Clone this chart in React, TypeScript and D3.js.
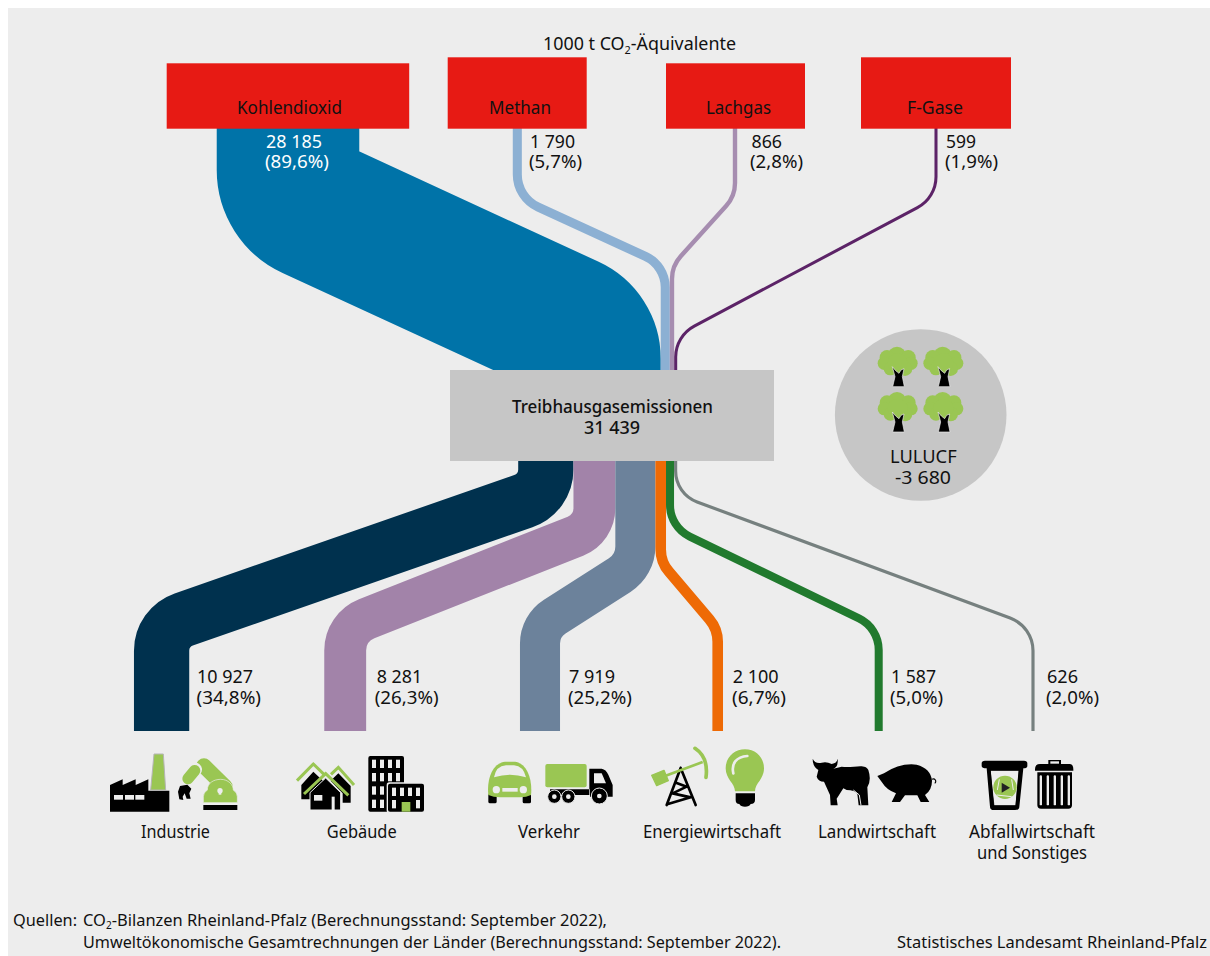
import React from "react";
import * as d3 from "d3";

// ---------- data ----------
const gasNames = ["Kohlendioxid", "Methan", "Lachgas", "F-Gase"];
const gasValues = [28185, 1790, 866, 599];
const gasShares = [89.6, 5.7, 2.8, 1.9];
const gasColors = ["#0073a8", "#8cb0d3", "#a68db0", "#5c2367"];

const sectorNames = [["Industrie"], ["Gebäude"], ["Verkehr"], ["Energiewirtschaft"], ["Landwirtschaft"], ["Abfallwirtschaft", "und Sonstiges"]];
const sectorValues = [10927, 8281, 7919, 2100, 1587, 626];
const sectorShares = [34.8, 26.3, 25.2, 6.7, 5.0, 2.0];
const sectorColors = ["#00314e", "#a283a9", "#6c829b", "#ee6a05", "#217a2e", "#76807f"];

const totalValue = 31439;
const lulucfValue = -3680;

// ---------- layout (pixels, separate from data) ----------
const GREEN = "#9ac653";
const BG = "#ededed";
const NODE = { x: 450, y: 370, w: 324, h: 91 };
const STACK_X0 = 518.2;
const BOTTOM_Y = 731;
const FONT = "'Noto Sans', 'Open Sans', sans-serif";
const BODY = 18.5;
const SMALL = 16.4;

const gasBoxes = [
  { x: 166.7, y: 63.3, w: 242.5, h: 65.4, lx: 237, lw: 105 },
  { x: 447.7, y: 57.3, w: 139, h: 71.4, lx: 489, lw: 62 },
  { x: 666, y: 63.3, w: 139, h: 65.4, lx: 706, lw: 65 },
  { x: 861, y: 57.3, w: 150, h: 71.4, lx: 907, lw: 56 },
];
// x of the vertical run at the box, y of the bend near box, y of the bend near node, radii
const gasRoutes = [
  { x: 288, yFar: 197, yNear: 336, rFar: 42, rNear: 35.5 },
  { x: 517.3, yFar: 197.5, yNear: 265.5, rFar: 36, rNear: 34 },
  { x: 735, yFar: 196, yNear: 266, rFar: 34, rNear: 34 },
  { x: 936, yFar: 197.7, yNear: 336, rFar: 35, rNear: 35 },
];
const sectorRoutes = [
  { x: 161.6, yNear: 493.3, yFar: 627.2, rNear: 33.5, rFar: 33 },
  { x: 345.2, yNear: 528.7, yFar: 627.3, rNear: 30, rFar: 34 },
  { x: 540, yNear: 565, yFar: 626, rNear: 34, rFar: 32 },
  { x: 717.7, yNear: 562, yFar: 629, rNear: 35, rFar: 35 },
  { x: 878.7, yNear: 527, yFar: 628, rNear: 35, rFar: 35 },
  { x: 1033, yNear: 494, yFar: 626.5, rNear: 33, rFar: 35 },
];
const gasLabels = [
  { vx: 266, vw: 56, px: 265, pw: 64 },
  { vx: 530, vw: 45, px: 529, pw: 53 },
  { vx: 751.5, vw: 30.5, px: 750, pw: 53 },
  { vx: 946, vw: 30, px: 945, pw: 53 },
];
const sectorLabels = [
  { vx: 197, vw: 56, px: 196.5, pw: 64.5 },
  { vx: 376.7, vw: 45.5, px: 374.7, pw: 64 },
  { vx: 569, vw: 46, px: 568, pw: 64 },
  { vx: 732.7, vw: 46, px: 732, pw: 54 },
  { vx: 891, vw: 45, px: 890, pw: 53 },
  { vx: 1047, vw: 31, px: 1046, pw: 53 },
];
const sectorTitleX = [
  [{ x: 141, w: 69 }],
  [{ x: 326.7, w: 70 }],
  [{ x: 518, w: 62 }],
  [{ x: 643, w: 138 }],
  [{ x: 818, w: 118 }],
  [{ x: 969, w: 126 }, { x: 977, w: 110 }],
];

// ---------- scales / formats ----------
const widthScale = d3.scaleLinear().domain([0, totalValue]).range([0, 159]);
const locale = d3.formatLocale({ decimal: ",", thousands: " ", grouping: [3], currency: ["", ""], minus: "-" });
const fmtInt = locale.format(",d");
const fmtPct = (v: number) => `(${locale.format(".1f")(v)}%)`;

function stackCenters(values: number[]) {
  let cum = 0;
  return values.map((v) => {
    const c = STACK_X0 + widthScale(cum + v / 2);
    cum += v;
    return c;
  });
}

function routePath(xA: number, yA: number, yB1: number, rB1: number, xB: number, yB2: number, rB2: number, yEnd: number) {
  const p = d3.path();
  p.moveTo(xA, yA);
  p.arcTo(xA, yB1, xB, yB2, rB1);
  p.arcTo(xB, yB2, xB, yEnd, rB2);
  p.lineTo(xB, yEnd);
  return p.toString();
}

function T({ x, y, w, size = BODY, fill = "#111", weight = 400, children }: any) {
  return (
    <text x={x} y={y} fontSize={size} fill={fill} fontWeight={weight} fontFamily={FONT} textLength={w} lengthAdjust="spacingAndGlyphs">
      {children}
    </text>
  );
}

// one label of two lines, as one text element with two positioned lines
function TwoLines({ y1, y2, a, b, fill = "#111", weight = 400 }: any) {
  return (
    <text fontSize={BODY} fill={fill} fontWeight={weight} fontFamily={FONT}>
      <tspan x={a.x} y={y1} textLength={a.w} lengthAdjust="spacingAndGlyphs">{a.s}</tspan>
      <tspan x={b.x} y={y2} textLength={b.w} lengthAdjust="spacingAndGlyphs">{b.s}</tspan>
    </text>
  );
}

// ---------- icons (drawn in 3x crop coordinates) ----------
const Z = ({ ox, oy, children }: any) => <g transform={`translate(${ox},${oy}) scale(${1 / 3})`}>{children}</g>;

function IconsLeft() {
  const grid: [number, number][] = [];
  for (let r = 0; r < 4; r++) for (let c = 0; c < 4; c++) if (!(r >= 2 && c >= 2)) grid.push([c, r]);
  return (
    <Z ox={100} oy={740}>
      {/* factory */}
      <path d="M30 215 V135 L68 118 V135 L107 118 V135 L145 118 V152 H208 V215 Z" fill="#000" />
      {[42, 75, 106].map((x) => <rect key={x} x={x} y={165} width={27} height={14} fill={BG} />)}
      <path d="M162 42 H190 L197 150 H152 Z" fill={GREEN} stroke="#b5b5b5" strokeWidth={3} />
      {/* robot */}
      <path d="M312 78 L375 140" stroke={GREEN} strokeWidth={46} strokeLinecap="round" />
      <path d="M286 88 L262 118" stroke={BG} strokeWidth={40} strokeLinecap="round" />
      <path d="M284 92 L264 116" stroke={GREEN} strokeWidth={34} strokeLinecap="round" />
      <path d="M310 188 V170 Q310 158 322 150 C322 130 340 118 362 118 C385 118 400 135 400 150 Q412 158 412 170 V188 Z" fill={GREEN} stroke={BG} strokeWidth={2} />
      <circle cx={360} cy={152} r={8} fill={BG} />
      <rect x={356} y={152} width={8} height={12} fill={BG} />
      <rect x={310} y={195} width={102} height={15} fill="#000" />
      <path d="M240 138 L262 134 L274 146 L268 160 L272 176 L260 176 L254 160 L248 170 L250 180 L238 178 L234 155 Z" fill="#000" />
      {/* houses */}
      <path d="M604 135 L640 95 L672 125 L630 165 V178 H604 Z" fill="#000" />
      <path d="M692 122 L715 100 L752 138 V188 H728 V160 Z" fill="#000" />
      <path d="M630 158 L677 114 L722 158 V210 H630 Z" fill="#000" stroke={BG} strokeWidth={3} />
      <rect x={642} y={165} width={25} height={17} fill={BG} />
      <rect x={695} y={170} width={9} height={42} fill={BG} />
      <path d="M591 122 L640 72 L672 103" fill="none" stroke={GREEN} strokeWidth={9} />
      <path d="M693 103 L715 82 L762 135" fill="none" stroke={GREEN} strokeWidth={9} />
      <path d="M612 162 L677 101 L745 166" fill="none" stroke={GREEN} strokeWidth={9} />
      {/* buildings */}
      <rect x={805} y={48} width={107} height={167} rx={6} fill="#000" />
      {grid.map(([c, r]) => <rect key={`${c}-${r}`} x={816 + c * 24} y={59 + r * 40} width={12} height={25} fill={BG} />)}
      <rect x={860} y={127} width={115} height={92} rx={8} fill={BG} />
      <rect x={864} y={131} width={108} height={84} rx={6} fill="#000" />
      {[0, 1, 2, 3].map((c) => <rect key={c} x={876 + c * 24} y={143} width={12} height={25} fill={BG} />)}
      <rect x={876} y={180} width={12} height={25} fill={BG} />
      <rect x={948} y={180} width={12} height={25} fill={BG} />
      <rect x={905} y={186} width={26} height={29} fill={GREEN} />
    </Z>
  );
}

function IconsMiddle() {
  return (
    <Z ox={470} oy={740}>
      {/* car */}
      <rect x={55} y={160} width={25} height={30} rx={5} fill="#000" />
      <rect x={158} y={160} width={25} height={30} rx={5} fill="#000" />
      <path d="M55 165 C50 120 65 70 105 65 H135 C172 70 188 120 183 165 Q170 172 150 172 H90 Q70 172 55 165 Z" fill={GREEN} />
      <path d="M72 112 Q78 78 108 76 H132 Q160 78 168 112 Q120 96 72 112 Z" fill={BG} />
      <circle cx={79} cy={149} r={11} fill={BG} />
      <circle cx={160} cy={149} r={11} fill={BG} />
      <rect x={97} y={144} width={46} height={11} fill={BG} />
      {/* truck */}
      <rect x={226} y={72} width={124} height={70} rx={6} fill={GREEN} />
      <path d="M358 86 H395 Q408 88 415 104 L428 135 V170 H360 V148 H240 V165 H358 Z" fill="#000" />
      <path d="M372 100 H395 L408 130 H372 Z" fill={BG} />
      {[[253, 170, 20], [295, 170, 20], [388, 168, 24]].map(([cx, cy, r]) => (
        <g key={cx}>
          <circle cx={cx} cy={cy} r={r} fill="#000" stroke={BG} strokeWidth={3} />
          <circle cx={cx} cy={cy} r={7} fill={BG} />
        </g>
      ))}
      {/* derrick */}
      <path d="M632 84 L590 195 M632 84 L677 195 M618 128 L650 140 L608 160 L662 172 L594 192" fill="none" stroke="#000" strokeWidth={8} strokeLinecap="round" strokeLinejoin="round" />
      <path d="M575 112 L698 66" stroke={GREEN} strokeWidth={8} />
      <path d="M545 106 L582 91 L595 122 L560 137 Z" fill={GREEN} stroke={GREEN} strokeWidth={4} strokeLinejoin="round" />
      <path d="M675 25 Q716 52 708 112" fill="none" stroke={GREEN} strokeWidth={11} strokeLinecap="round" />
      {/* bulb */}
      <path d="M795 154 C795 130 767 118 767 85 C767 52 793 28 825 28 C857 28 882 52 882 85 C882 118 855 130 855 154 Z" fill={GREEN} />
      <path d="M790 100 C783 70 800 50 832 48" fill="none" stroke={BG} strokeWidth={8} strokeLinecap="round" />
      <path d="M797 160 H855 V180 Q855 192 842 192 Q838 200 825 200 Q812 200 808 192 Q797 192 797 180 Z" fill="#000" />
    </Z>
  );
}

function IconsRight() {
  return (
    <Z ox={790} oy={740}>
      {/* cow */}
      <path d="M68 56 Q75 72 95 68 Q110 64 125 72 Q140 70 143 56 Q145 82 130 86 L155 80 C190 85 225 68 235 90 Q245 120 232 142 L235 196 H206 L202 162 Q195 150 170 150 L160 145 L140 176 L143 196 H122 L120 165 L102 125 Q85 125 80 110 L85 90 Q68 80 68 56 Z" fill="#000" />
      <path d="M190 150 L208 165 L213 196" fill="none" stroke={BG} strokeWidth={3} />
      {/* pig */}
      <path d="M262 108 L282 100 Q330 68 380 74 Q422 85 426 122 Q426 150 405 165 L418 186 H392 L382 166 H345 L330 186 H305 L318 160 Q290 150 278 130 Z" fill="#000" />
      <path d="M426 118 A7 7 0 1 1 434 130" fill="none" stroke="#000" strokeWidth={3.5} />
      {/* recycling bin */}
      <path d="M575 70 Q575 62 585 62 H702 Q712 62 712 70 V78 Q712 85 700 85 L688 200 Q688 210 675 210 H612 Q600 210 600 200 L590 85 Q575 85 575 78 Z" fill="#000" />
      <path d="M600 90 H688 L678 198 H612 Z" fill={BG} stroke="#000" strokeWidth={2} />
      <path d="M598 88 H690 L680 200 H608 Z" fill="none" stroke="#000" strokeWidth={8} />
      <circle cx={645} cy={142} r={35} fill={GREEN} />
      <path d="M635 128 L660 143 L635 158 Z" fill="#222" />
      <path d="M628 118 L622 150 M665 118 L670 150 M620 165 L665 170" stroke={BG} strokeWidth={3} />
      {/* dustbin */}
      <path d="M735 88 Q735 72 750 72 H775 V60 H813 V72 H838 Q850 72 850 88 V92 H735 Z" fill="#000" />
      <rect x={781} y={64} width={26} height={7} fill={BG} />
      <path d="M742 97 H846 V195 Q846 206 835 206 H753 Q742 206 742 195 Z" fill="#000" />
      {[752, 773, 794, 815, 836].map((x) => <rect key={x} x={x - 3} y={106} width={7} height={90} rx={3.5} fill={BG} />)}
    </Z>
  );
}

const treeOffsets: [number, number][] = [[0, 0], [137, 0], [0, 136], [137, 136]];
function Trees() {
  const crown: [number, number, number][] = [[216, 108, 28], [186, 112, 22], [250, 112, 22], [178, 130, 20], [258, 130, 20], [196, 146, 20], [240, 146, 22], [218, 130, 30]];
  return (
    <Z ox={825} oy={320}>
      {treeOffsets.map(([dx, dy]) => (
        <g key={`${dx}-${dy}`} transform={`translate(${dx},${dy})`}>
          {crown.map(([cx, cy, r]) => <circle key={`${cx}-${cy}`} cx={cx} cy={cy} r={r} fill={GREEN} />)}
          <path d="M202 140 L212 152 L222 160 L228 150 L237 146 L232 170 L238 200 H203 L210 170 Z" fill="#000" stroke={BG} strokeWidth={2} />
        </g>
      ))}
    </Z>
  );
}

export default function App() {
  const gasCenters = stackCenters(gasValues);
  const sectorCenters = stackCenters(sectorValues);
  const t = NODE.y;
  const b = NODE.y + NODE.h;
  return (
    <svg width={1202} height={948} viewBox="8 8 1202 948" style={{ display: "block", position: "absolute", left: 8, top: 8 }}>
      <rect x={8} y={8} width={1202} height={948} fill={BG} />

      {/* flows */}
      {gasValues.map((v, i) => {
        const r = gasRoutes[i];
        return (
          <path key={gasNames[i]} d={routePath(r.x, 128, r.yFar, r.rFar, gasCenters[i], r.yNear, r.rNear, t)} fill="none" stroke={gasColors[i]} strokeWidth={widthScale(v)} />
        );
      })}
      {sectorValues.map((v, i) => {
        const r = sectorRoutes[i];
        return (
          <path key={sectorNames[i][0]} d={routePath(sectorCenters[i], b, r.yNear, r.rNear, r.x, r.yFar, r.rFar, BOTTOM_Y)} fill="none" stroke={sectorColors[i]} strokeWidth={widthScale(v)} />
        );
      })}

      {/* gas boxes */}
      {gasBoxes.map((g, i) => (
        <g key={gasNames[i]}>
          <rect x={g.x} y={g.y} width={g.w} height={g.h} fill="#e71a14" />
          <T x={g.lx} y={114} w={g.lw}>{gasNames[i]}</T>
        </g>
      ))}

      {/* unit title */}
      <T x={543} y={50} w={193} size={BODY - 0.5}>
        1000 t CO<tspan dy={4} fontSize={11}>2</tspan><tspan dy={-4}>-Äquivalente</tspan>
      </T>

      {/* gas values */}
      {gasValues.map((v, i) => {
        const l = gasLabels[i];
        return (
          <TwoLines key={gasNames[i]} y1={148} y2={167.5} fill={i === 0 ? "#fff" : "#111"}
            a={{ x: l.vx, w: l.vw, s: fmtInt(v) }} b={{ x: l.px, w: l.pw, s: fmtPct(gasShares[i]) }} />
        );
      })}

      {/* central node */}
      <rect x={NODE.x} y={NODE.y} width={NODE.w} height={NODE.h} fill="#c6c6c6" />
      <TwoLines y1={412.7} y2={434} weight={500}
        a={{ x: 512, w: 201, s: "Treibhausgasemissionen" }} b={{ x: 584, w: 56, s: fmtInt(totalValue) }} />

      {/* LULUCF */}
      <circle cx={920.7} cy={415} r={85.8} fill="#c6c6c6" />
      <Trees />
      <TwoLines y1={462.7} y2={484}
        a={{ x: 890, w: 66.7, s: "LULUCF" }} b={{ x: 895, w: 56, s: fmtInt(lulucfValue) }} />

      {/* sector values */}
      {sectorValues.map((v, i) => {
        const l = sectorLabels[i];
        return (
          <TwoLines key={sectorNames[i][0]} y1={682.7} y2={704}
            a={{ x: l.vx, w: l.vw, s: fmtInt(v) }} b={{ x: l.px, w: l.pw, s: fmtPct(sectorShares[i]) }} />
        );
      })}

      <IconsLeft />
      <IconsMiddle />
      <IconsRight />

      {/* sector names */}
      {sectorNames.map((lines, i) =>
        lines.length === 1 ? (
          <T key={lines[0]} x={sectorTitleX[i][0].x} y={838} w={sectorTitleX[i][0].w}>{lines[0]}</T>
        ) : (
          <TwoLines key={lines[0]} y1={838} y2={859}
            a={{ x: sectorTitleX[i][0].x, w: sectorTitleX[i][0].w, s: lines[0] }}
            b={{ x: sectorTitleX[i][1].x, w: sectorTitleX[i][1].w, s: lines[1] }} />
        )
      )}

      {/* footer */}
      <T x={13} y={925.7} w={64} size={SMALL}>Quellen:</T>
      <T x={83} y={925.7} w={524} size={SMALL}>
        CO<tspan dy={3} fontSize={10}>2</tspan><tspan dy={-3}>-Bilanzen Rheinland-Pfalz (Berechnungsstand: September 2022),</tspan>
      </T>
      <T x={83} y={947.5} w={698} size={SMALL}>Umweltökonomische Gesamtrechnungen der Länder (Berechnungsstand: September 2022).</T>
      <T x={897} y={947.5} w={310} size={SMALL}>Statistisches Landesamt Rheinland-Pfalz</T>
    </svg>
  );
}
